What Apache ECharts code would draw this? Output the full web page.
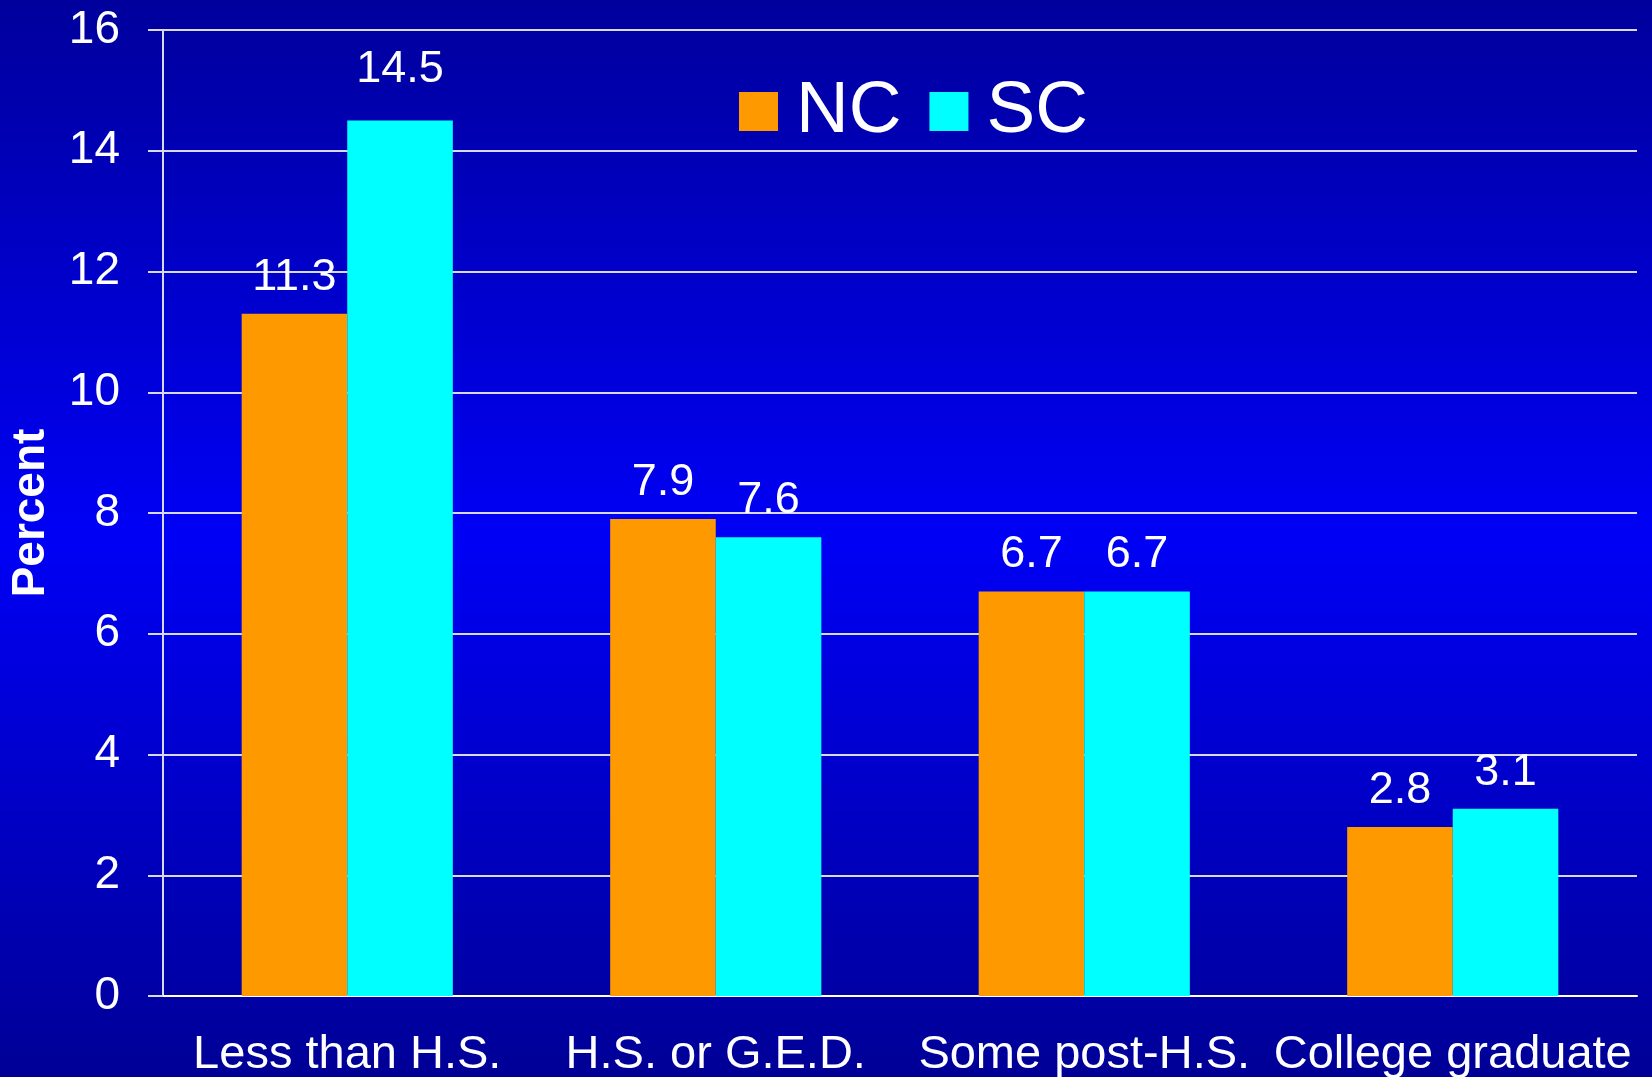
<!DOCTYPE html>
<html>
<head>
<meta charset="utf-8">
<script src="https://cdn.jsdelivr.net/npm/echarts@6/dist/echarts.min.js"></script>
<style>
html,body{margin:0;padding:0;width:1652px;height:1077px;overflow:hidden;}
#c{width:1652px;height:1077px;}
</style>
</head>
<body>
<div id="c"></div>
<script>
const categories = ["Less than H.S.", "H.S. or G.E.D.", "Some post-H.S.", "College graduate"];
const seriesNames = ["NC", "SC"];
const ncValues = [11.3, 7.9, 6.7, 2.8];
const scValues = [14.5, 7.6, 6.7, 3.1];
const yTicks = [0, 2, 4, 6, 8, 10, 12, 14, 16];

const FONT = "'Liberation Sans', Arial, sans-serif";
const chart = echarts.init(document.getElementById('c'), null, {renderer: 'canvas'});
const labelCfg = {show: true, position: 'top', distance: 14, color: '#ffffff', fontSize: 45, fontFamily: FONT};
chart.setOption({
  animation: false,
  backgroundColor: {
    type: 'linear', x: 0, y: 0, x2: 0, y2: 1,
    colorStops: [
      {offset: 0, color: '#00009c'},
      {offset: 0.5, color: '#0000f6'},
      {offset: 1, color: '#000096'}
    ]
  },
  grid: {left: 163, right: 15, top: 30, bottom: 81, containLabel: false, outerBoundsMode: 'none'},
  legend: {
    data: seriesNames,
    left: 734, top: 70,
    itemWidth: 39, itemHeight: 39, itemGap: 28,
    icon: 'rect',
    textStyle: {color: '#ffffff', fontSize: 73, fontFamily: FONT, padding: [0, 0, 0, 13]}
  },
  xAxis: {
    type: 'category',
    data: categories,
    axisLine: {show: true, lineStyle: {color: '#ffffff', width: 2}},
    axisTick: {show: false},
    axisLabel: {color: '#ffffff', fontSize: 47, fontFamily: FONT, margin: 36, interval: 0}
  },
  yAxis: {
    type: 'value',
    min: yTicks[0], max: yTicks[yTicks.length - 1], interval: 2,
    name: 'Percent',
    nameLocation: 'middle',
    nameGap: 109,
    nameRotate: 90,
    nameTextStyle: {color: '#ffffff', fontSize: 46, fontWeight: 'bold', fontFamily: FONT},
    axisLine: {show: true, lineStyle: {color: '#d8d8f0', width: 2}},
    axisTick: {show: true, inside: false, length: 15, lineStyle: {color: '#d8d8f0', width: 2}},
    axisLabel: {color: '#ffffff', fontSize: 46, fontFamily: FONT, margin: 43},
    splitLine: {show: true, lineStyle: {color: '#d8d8f0', width: 2}}
  },
  series: [
    {
      name: seriesNames[0], type: 'bar', data: ncValues,
      barGap: '0%', barCategoryGap: '42.7%',
      itemStyle: {color: '#ff9900'},
      label: labelCfg
    },
    {
      name: seriesNames[1], type: 'bar',
      data: scValues.map((v, i) => i === 0 ? {value: v, label: {distance: 28}} : v),
      barGap: '0%', barCategoryGap: '42.7%',
      itemStyle: {color: '#00ffff'},
      label: labelCfg
    }
  ]
});
</script>
</body>
</html>
